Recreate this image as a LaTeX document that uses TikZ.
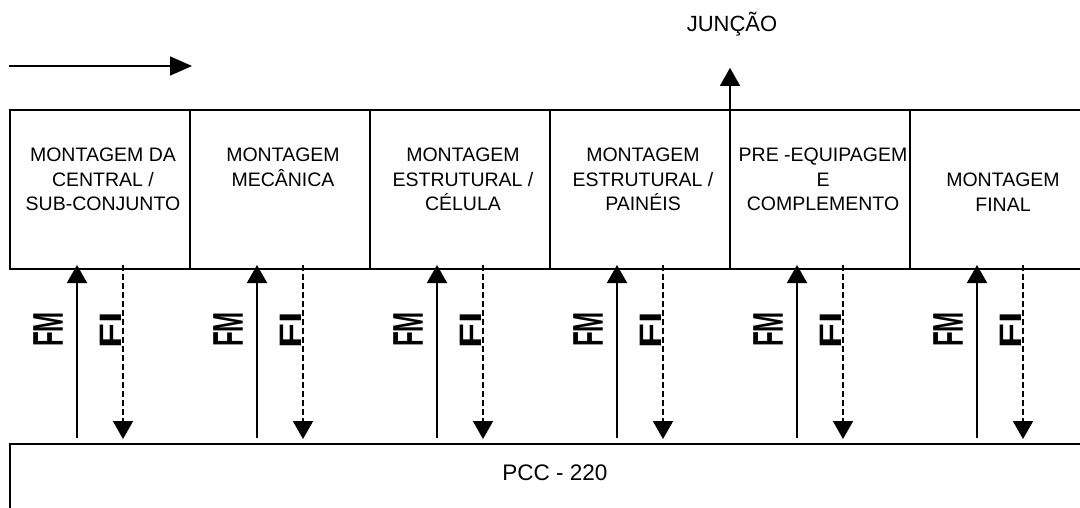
\documentclass[tikz,border=0pt]{standalone}
\usepackage{fontspec}
\usepackage{graphicx}
\setmainfont{Liberation Sans}
\usetikzlibrary{positioning,calc,arrows.meta}

\begin{document}
\begin{tikzpicture}[
      x=1pt, y=-1pt,
      every node/.style={font=\fontsize{19.5}{24.5}\selectfont},
      stage/.style={draw,line width=2pt,outer sep=0pt,minimum width=180pt,minimum height=159pt},
      stagelbl/.style={align=center,inner sep=0pt},
      fm/.style={line width=1.6pt,-{Triangle[length=18pt,width=20pt]}},
      fi/.style={fm,dash pattern=on 6pt off 3pt},
      flbl/.style={rotate=90,inner sep=0pt,anchor=south},
    ]
    \clip (0,0) rectangle (1080,508);

    % etapas de montagem
    \node[stage] (s1) at (100,189.5) {};
    \node[stage,right=0pt of s1] (s2) {};
    \node[stage,right=0pt of s2] (s3) {};
    \node[stage,right=0pt of s3] (s4) {};
    \node[stage,right=0pt of s4] (s5) {};
    \node[stage,right=0pt of s5] (s6) {};

    \node[stagelbl,below=38pt of s1.north,xshift=3pt] (t1) {MONTAGEM DA\\CENTRAL /\\SUB-CONJUNTO};
    \node[stagelbl,below=38pt of s2.north,xshift=3pt] (t2) {MONTAGEM\\MECÂNICA};
    \node[stagelbl,below=38pt of s3.north,xshift=3pt] (t3) {MONTAGEM\\ESTRUTURAL /\\CÉLULA};
    \node[stagelbl,below=38pt of s4.north,xshift=3pt] (t4) {MONTAGEM\\ESTRUTURAL /\\PAINÉIS};
    \node[stagelbl,below=38pt of s5.north,xshift=3pt] (t5) {PRE -EQUIPAGEM\\E\\COMPLEMENTO};
    \node[stagelbl,below=63pt of s6.north,xshift=3pt] (t6) {MONTAGEM\\FINAL};

    % PCC
    \node[draw,line width=2pt,outer sep=0pt,minimum width=1090pt,minimum height=120pt,anchor=north west] (pcc) at (10,444) {};
    \node[inner sep=0pt,font=\fontsize{22.5}{27}\selectfont,below=21pt of pcc.north] (pcctxt) {PCC - 220};

    % fluxo e juncao
    \coordinate (flowa) at (9,66);
    \coordinate (flowb) at (192,66);
    \draw[line width=1.6pt,-{Triangle[length=22pt,width=19pt]}] (flowa) -- (flowb);
    \node[inner sep=0pt,font=\fontsize{22}{26}\selectfont,anchor=base] (jun) at (732,32) {JUNÇÃO};
    \draw[fm,shorten >=31pt] (s5.north west) -- (s5.north west |- jun.south);

    % FM sobe, FI desce
    \foreach \i in {1,...,6}{
      \coordinate (fmtop\i) at ([xshift=67pt]s\i.south west);
      \coordinate (fitop\i) at ([xshift=113pt]s\i.south west);
      \draw[fm,shorten <=6pt,shorten >=-4pt] (fmtop\i |- pcc.north) -- (fmtop\i);
      \draw[fi,shorten <=-4pt,shorten >=5pt] (fitop\i) -- (fitop\i |- pcc.north);
      \node[flbl] (lfm\i) at ($(fmtop\i)!0.5!(fmtop\i |- pcc.north)+(-14,-27)$) {\scalebox{0.56}[1]{\fontsize{43}{43}\selectfont\bfseries FM}};
      \node[flbl] (lfi\i) at ($(fitop\i)!0.5!(fitop\i |- pcc.north)+(-1,-26.5)$) {\scalebox{1.32}[1]{\fontsize{31}{31}\selectfont\bfseries FI}};
    }
  \end{tikzpicture}
\end{document}
